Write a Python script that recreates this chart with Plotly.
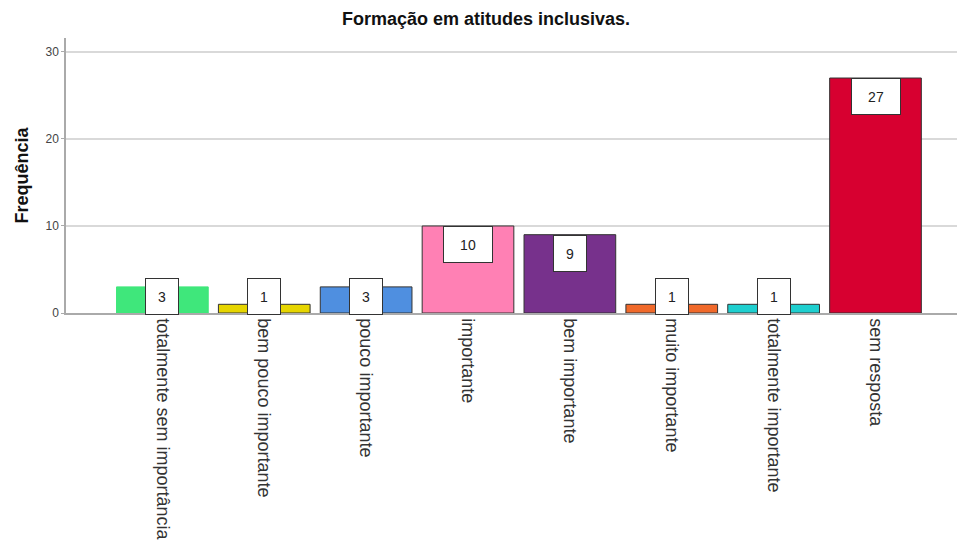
import plotly.graph_objects as go

categories = ["totalmente sem importância", "bem pouco importante", "pouco importante",
              "importante", "bem importante", "muito importante",
              "totalmente importante", "sem resposta"]
values = [3, 1, 3, 10, 9, 1, 1, 27]
colors = ["#3FE77B", "#E6D500", "#4F8FE0", "#FF80B4", "#77318C", "#F0692A", "#1ECFCF", "#D70030"]
line_colors = ["#3FE77B", "#333333", "#333333", "#333333", "#333333", "#333333", "#333333", "#333333"]
y_ticks = [0, 10, 20, 30]

fig = go.Figure()
fig.add_trace(go.Bar(
    x=list(range(len(categories))), y=values,
    marker=dict(color=colors, line=dict(color=line_colors, width=1)),
    showlegend=False, hoverinfo="skip",
))

for i, v in enumerate(values):
    txt = str(v)
    fig.add_annotation(
        x=i, y=max(v, 4.0), xref="x", yref="y", yanchor="top",
        text=txt, showarrow=False,
        font=dict(family="Liberation Sans, Arial", size=14, color="#222"),
        bgcolor="white", bordercolor="#333", borderwidth=1, borderpad=8,
        width=16 if len(txt) == 1 else 32, height=19,
    )

fig.update_layout(
    width=959, height=547,
    margin=dict(l=66, r=2, t=38, b=234),
    paper_bgcolor="white", plot_bgcolor="white",
    bargap=0.1,
    title=dict(text="<b>Formação em atitudes inclusivas.</b>", x=486/959, xanchor="center",
               y=1 - 19/547, yanchor="middle",
               font=dict(family="Liberation Sans, Arial", size=18, color="#111")),
    xaxis=dict(
        range=[-0.946, 7.8], tickmode="array", tickvals=list(range(len(categories))),
        ticktext=categories, tickangle=90, ticks="",
        tickfont=dict(family="Liberation Sans, Arial", size=18, color="#333"),
        showline=True, linecolor="#aaaaaa", linewidth=1.5, showgrid=False, zeroline=False,
    ),
    yaxis=dict(
        range=[0, 31.6], tickvals=y_ticks, ticks="outside", ticklen=3, tickcolor="#aaaaaa",
        tickfont=dict(family="Liberation Sans, Arial", size=12, color="#444"),
        showline=True, linecolor="#aaaaaa", linewidth=1.5,
        showgrid=True, gridcolor="#d9d9d9", gridwidth=1.5, zeroline=False,
        title=dict(text="<b>Frequência</b>", standoff=12,
                   font=dict(family="Liberation Sans, Arial", size=18, color="#111")),
    ),
)

fig.write_html("out.html")
